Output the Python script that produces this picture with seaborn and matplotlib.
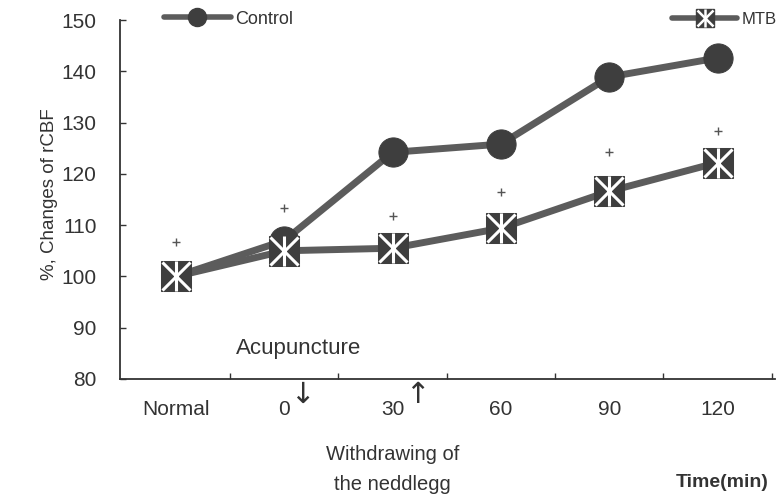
import numpy as np
import pandas as pd
import matplotlib
matplotlib.use("Agg")
import matplotlib.pyplot as plt
import matplotlib.transforms as mtransforms
from matplotlib.lines import Line2D
import seaborn as sns

# ---- data -------------------------------------------------------------
time_labels = ["Normal", "0", "30", "60", "90", "120"]
control = [100.0, 107.0, 124.2, 125.8, 138.9, 142.6]
mtb = [100.0, 105.0, 105.5, 109.4, 116.6, 122.2]
mtb_upper = [106.8, 113.3, 111.7, 116.4, 124.2, 128.4]

pos = np.arange(len(time_labels))
df = pd.DataFrame({
    "pos": np.concatenate([pos, pos]),
    "value": control + mtb,
    "group": ["Control"] * len(pos) + ["MTB"] * len(pos),
})
df_err = pd.DataFrame({"pos": pos, "value": mtb_upper})

# ---- style ------------------------------------------------------------
sns.set_theme(style="white")
plt.rcParams["font.family"] = ["Liberation Sans", "DejaVu Sans"]

line_col = "#5c5c5c"
mark_col = "#3e3e3e"
text_col = "#333333"

fig = plt.figure(figsize=(7.8, 4.99), dpi=100)
ax = fig.add_axes([120 / 780, 1 - 379 / 499, (775 - 120) / 780, (379 - 20) / 499])

# Control: line with filled circles
sns.lineplot(data=df[df.group == "Control"], x="pos", y="value", ax=ax,
             color=line_col, linewidth=5, marker="o", markersize=21,
             markerfacecolor=mark_col, markeredgecolor=mark_col,
             legend=False, zorder=3)

# MTB: line with filled squares carrying a white cross
sns.lineplot(data=df[df.group == "MTB"], x="pos", y="value", ax=ax,
             color=line_col, linewidth=5, marker="s", markersize=22,
             markerfacecolor=mark_col, markeredgecolor=mark_col,
             legend=False, zorder=4)
mtb_df = df[df.group == "MTB"]
ax.plot(mtb_df.pos, mtb_df.value, ls="none", marker="x", markersize=20,
        mew=2.2, mec="white", zorder=5)
ax.plot(mtb_df.pos, mtb_df.value, ls="none", marker="|", markersize=21,
        mew=2.2, mec="white", zorder=5)

# upper error marks
sns.scatterplot(data=df_err, x="pos", y="value", ax=ax, marker="+",
                s=40, color="#555555", linewidth=1.0, zorder=6, legend=False)

# ---- axes -------------------------------------------------------------
ax.set_xlim(-0.517, 5.53)
ax.set_ylim(80, 150)
ax.set_xticks(pos)
ax.set_xticklabels(time_labels)
ax.set_xticks(pos + 0.5, minor=True)
ax.set_yticks(np.arange(80, 151, 10))
ax.tick_params(axis="x", which="major", length=0, pad=15, labelsize=15,
               labelcolor=text_col)
ax.tick_params(axis="x", which="minor", direction="in", length=4,
               width=1, color="#333333", bottom=True)
ax.tick_params(axis="y", direction="in", length=4, width=1,
               color="#333333", pad=17, labelsize=15, labelcolor=text_col,
               left=True)
for side in ("top", "right"):
    ax.spines[side].set_visible(False)
for side in ("left", "bottom"):
    ax.spines[side].set_color("#333333")
    ax.spines[side].set_linewidth(1.3)
ax.set_xlabel("")
ax.set_ylabel("%, Changes of rCBF", fontsize=13.5, color=text_col)
ax.yaxis.set_label_coords(-0.094, 0.515)

# ---- legends ------------------------------------------------------------
h_control = Line2D([], [], color=line_col, lw=4, marker="o", markersize=13,
                   markerfacecolor=mark_col, markeredgecolor=mark_col)
h_mtb = (Line2D([], [], color=line_col, lw=4, marker="s", markersize=13,
                markerfacecolor=mark_col, markeredgecolor=mark_col),
         Line2D([], [], ls="none", marker="x", markersize=12, mew=1.8,
                mec="white"),
         Line2D([], [], ls="none", marker="|", markersize=13, mew=1.8,
                mec="white"))

leg1 = ax.legend([h_control], ["Control"], loc="center left",
                 bbox_to_anchor=(164 / 780, 1 - 19 / 499),
                 bbox_transform=fig.transFigure, frameon=False,
                 fontsize=13, handlelength=3.7, handletextpad=0.25,
                 borderpad=0, borderaxespad=0, labelcolor=text_col)
ax.add_artist(leg1)
ax.legend([h_mtb], ["MTB"], loc="center left",
          bbox_to_anchor=(672 / 780, 1 - 19 / 499),
          bbox_transform=fig.transFigure, frameon=False,
          fontsize=12, handlelength=3.9, handletextpad=0.25,
          borderpad=0, borderaxespad=0, labelcolor=text_col)

# ---- annotations --------------------------------------------------------
blend = mtransforms.blended_transform_factory(ax.transData, ax.transAxes)
ax.text(0.273, 0.086, "Acupuncture", transform=ax.transAxes, fontsize=16,
        ha="center", va="center", color=text_col)
ax.text(1.17, -0.045, "\u2193", transform=blend, fontsize=21,
        ha="center", va="center", color=text_col, family="DejaVu Sans",
        clip_on=False)
ax.text(2.23, -0.045, "\u2191", transform=blend, fontsize=21,
        ha="center", va="center", color=text_col, family="DejaVu Sans",
        clip_on=False)
ax.text(2.0, -0.252, "Withdrawing of\nthe neddlegg", transform=blend,
        fontsize=14.5, ha="center", va="center", linespacing=1.75,
        color=text_col, clip_on=False)
ax.text(0.919, -0.287, "Time(min)", transform=ax.transAxes, fontsize=14,
        fontweight="bold", ha="center", va="center", color=text_col,
        clip_on=False)

fig.savefig("out.png", dpi=100)
